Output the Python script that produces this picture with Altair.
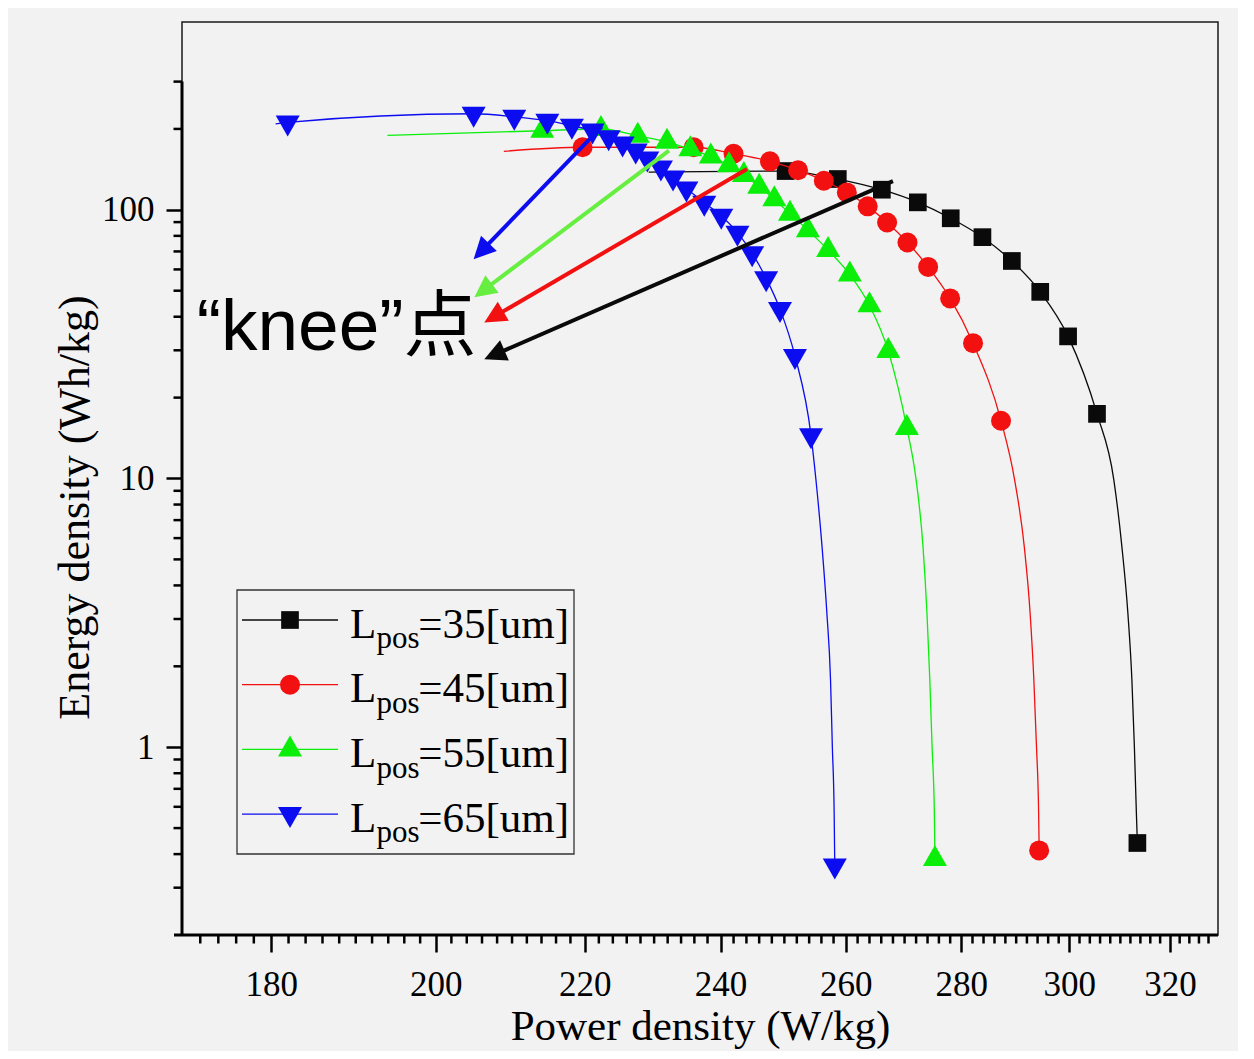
import math
import pandas as pd
import altair as alt

# ---------------- data ----------------
LEGEND_VALUES = ["35", "45", "55", "65"]
COLORS = ["#0a0a0a", "#f21010", "#0aee0a", "#0c0cf0"]

# L_pos = 35 um (squares)
BLACK_X = [250.2, 258.7, 266.1, 272.3, 278.1, 283.8, 289.2, 294.5, 299.8, 305.4, 313.4]
BLACK_Y = [139.4, 130.2, 118.8, 106.6, 93.0, 79.1, 64.5, 49.5, 33.8, 17.4, 0.44]
BLACK_LINE_X = [229.2, 308.7, 310.3, 311.5, 312.3, 312.8, 313.2]
BLACK_LINE_Y = [138.2, 9.91, 5.59, 3.15, 1.78, 1.00, 0.567]

# L_pos = 45 um (circles)
RED_X = [219.7, 235.9, 242.0, 247.7, 252.2, 256.4, 260.2, 263.7, 267.0, 270.5, 274.1, 278.0, 282.1, 287.2, 294.3]
RED_Y = [170.9, 170.9, 161.6, 151.5, 140.4, 128.3, 116.1, 103.0, 89.7, 75.6, 61.3, 46.8, 31.9, 16.4, 0.413]
RED_LINE_X = [208.9, 289.7, 291.5, 292.6, 293.3, 293.8, 294.2]
RED_LINE_Y = [165.1, 9.91, 5.59, 3.15, 1.78, 1.00, 0.567]

# L_pos = 55 um (up triangles)
GREEN_X = [214.1, 222.3, 227.6, 231.9, 235.4, 238.5, 241.3, 243.6, 246.0, 248.4, 250.9, 253.8, 257.1, 260.7,
           264.0, 267.2, 270.4, 275.3]
GREEN_Y = [196.9, 199.9, 188.6, 179.1, 168.1, 157.9, 146.4, 134.7, 121.9, 109.5, 96.7, 84.0, 70.8, 57.4,
           44.1, 29.8, 15.4, 0.384]
GREEN_LINE_X = [193.9, 272.0, 273.2, 273.9, 274.4, 274.8, 275.2]
GREEN_LINE_Y = [189.4, 9.91, 5.59, 3.15, 1.78, 1.00, 0.567]

# L_pos = 65 um (down triangles)
BLUE_X = [181.9, 204.9, 210.3, 214.8, 218.2, 221.1, 223.4, 225.4, 227.3, 229.0, 231.0, 232.8, 234.8, 237.5,
          240.1, 242.6, 244.9, 247.1, 249.3, 251.7, 254.3, 258.2]
BLUE_Y = [211.5, 227.8, 222.0, 214.6, 205.5, 197.4, 186.3, 176.5, 166.2, 155.2, 143.7, 131.8, 120.0, 106.3,
          95.1, 82.2, 68.9, 55.6, 42.7, 28.6, 14.5, 0.363]
BLUE_LINE_X = [180.5, 255.1, 256.1, 256.9, 257.5, 257.8, 258.1]
BLUE_LINE_Y = [208.7, 9.91, 5.59, 3.15, 1.78, 1.00, 0.567]

# "knee" arrows: start (on curve) and tip (near the label), in data units
ARROW_START_X = [222.4, 232.2, 244.1, 268.0]
ARROW_START_Y = [203.9, 166.0, 141.8, 127.9]
ARROW_TIP_X = [204.9, 205.0, 206.3, 206.3]
ARROW_TIP_Y = [65.5, 47.3, 38.1, 27.8]
ARROW_COLORS = ["#0c0cf0", "#66ee40", "#f21010", "#0a0a0a"]

KNEE_TEXT = "\u201cknee\u201d\u70b9"
KNEE_X = 171.6
KNEE_Y = 30.1

X_DOMAIN = [170, 330]
Y_DOMAIN = [0.2, 500]
X_MAJOR = [180, 200, 220, 240, 260, 280, 300, 320]
X_MINOR = [v for v in range(172, 330, 2) if v % 20 != 0]
Y_MAJOR = [1, 10, 100]
Y_MINOR = [0.3, 0.4, 0.5, 0.6, 0.7, 0.8, 0.9, 2, 3, 4, 5, 6, 7, 8, 9,
           20, 30, 40, 50, 60, 70, 80, 90, 200, 300]

# ---------------- layout / style ----------------
W, H = 1036, 913
SERIF = "Liberation Serif"
TRI_UP = "M-1,0.583L1,0.583L0,-1.167Z"
TRI_DOWN = "M-1,-0.583L1,-0.583L0,1.167Z"
SHAPES = ["square", "circle", TRI_UP, TRI_DOWN]
SIZES = [313, 400, 576, 576]
HEAD = "M0,0L1,2L-1,2Z"


def to_px(x, y):
    lx0, lx1 = math.log10(X_DOMAIN[0]), math.log10(X_DOMAIN[1])
    ly0, ly1 = math.log10(Y_DOMAIN[0]), math.log10(Y_DOMAIN[1])
    return (W * (math.log10(x) - lx0) / (lx1 - lx0),
            H * (ly1 - math.log10(y)) / (ly1 - ly0))


def from_px(px, py):
    lx0, lx1 = math.log10(X_DOMAIN[0]), math.log10(X_DOMAIN[1])
    ly0, ly1 = math.log10(Y_DOMAIN[0]), math.log10(Y_DOMAIN[1])
    return (10 ** (lx0 + px / W * (lx1 - lx0)),
            10 ** (ly1 - py / H * (ly1 - ly0)))


xscale = alt.Scale(type="log", domain=X_DOMAIN, nice=False)
yscale = alt.Scale(type="log", domain=Y_DOMAIN, nice=False)
xaxis = alt.Axis(values=X_MAJOR, format="d", title="Power density (W/kg)", grid=False, domain=False,
                 tickSize=17, tickWidth=2.5, tickColor="black",
                 labelFont=SERIF, labelFontSize=35, labelColor="black", labelPadding=15,
                 titleFont=SERIF, titleFontSize=43, titleFontWeight="normal", titleColor="black",
                 titleY=104, titleBaseline="alphabetic")
yaxis = alt.Axis(values=Y_MAJOR, format="d", title="Energy density (Wh/kg)", grid=False, domain=False,
                 tickSize=16, tickWidth=2.5, tickColor="black",
                 labelFont=SERIF, labelFontSize=35, labelColor="black", labelPadding=12,
                 titleFont=SERIF, titleFontSize=44, titleFontWeight="normal", titleColor="black",
                 titleAngle=270, titleX=-94, titleY=485, titleAlign="center", titleBaseline="alphabetic")
xenc = alt.X("x:Q", scale=xscale, axis=xaxis)
yenc = alt.Y("y:Q", scale=yscale, axis=yaxis)

layers = []

# axis lines and minor ticks
layers.append(alt.Chart(pd.DataFrame({"x": [X_DOMAIN[0]], "y": [300], "y2": [Y_DOMAIN[0]]}))
              .mark_rule(color="black", strokeWidth=3).encode(x=xenc, y=yenc, y2="y2:Q"))
layers.append(alt.Chart(pd.DataFrame({"k": [0]})).mark_rule(color="black", strokeWidth=3)
              .encode(x=alt.value(-8), x2=alt.value(W), y=alt.value(H)))
layers.append(alt.Chart(pd.DataFrame({"x": X_MINOR})).mark_rule(color="black", strokeWidth=2.5)
              .encode(x=xenc, y=alt.value(H), y2=alt.value(H + 8.5)))
layers.append(alt.Chart(pd.DataFrame({"y": Y_MINOR})).mark_rule(color="black", strokeWidth=2.5)
              .encode(y=yenc, x=alt.value(-8.5), x2=alt.value(0)))

# series: line then markers, in plotting order
SERIES = [(BLACK_X, BLACK_Y, BLACK_LINE_X, BLACK_LINE_Y),
          (RED_X, RED_Y, RED_LINE_X, RED_LINE_Y),
          (GREEN_X, GREEN_Y, GREEN_LINE_X, GREEN_LINE_Y),
          (BLUE_X, BLUE_Y, BLUE_LINE_X, BLUE_LINE_Y)]
for i, (mx, my, lx, ly) in enumerate(SERIES):
    pts = pd.DataFrame({"x": mx, "y": my})
    ln = pd.concat([pts, pd.DataFrame({"x": lx, "y": ly})]).sort_values("x").reset_index(drop=True)
    ln["o"] = range(len(ln))
    layers.append(alt.Chart(ln).mark_line(color=COLORS[i], strokeWidth=1.3, interpolate="monotone")
                  .encode(x=xenc, y=yenc, order="o:Q"))
    layers.append(alt.Chart(pts).mark_point(shape=SHAPES[i], size=SIZES[i], filled=True, opacity=1,
                                            color=COLORS[i], strokeWidth=0)
                  .encode(x=xenc, y=yenc))

# arrows
rule_rows, head_rows = [], []
for sx, sy, tx, ty, c in zip(ARROW_START_X, ARROW_START_Y, ARROW_TIP_X, ARROW_TIP_Y, ARROW_COLORS):
    psx, psy = to_px(sx, sy)
    ptx, pty = to_px(tx, ty)
    dx, dy = ptx - psx, pty - psy
    L = math.hypot(dx, dy)
    ang = math.degrees(math.atan2(dx, -dy)) % 360
    bx, by = from_px(ptx - 14 * dx / L, pty - 14 * dy / L)
    rule_rows.append({"x": sx, "y": sy, "x2": bx, "y2": by, "c": c})
    head_rows.append({"x": tx, "y": ty, "ang": ang, "c": c})
layers.append(alt.Chart(pd.DataFrame(rule_rows)).mark_rule(strokeWidth=4, strokeCap="butt")
              .encode(x=xenc, y=yenc, x2="x2:Q", y2="y2:Q", color=alt.Color("c:N", scale=None)))
layers.append(alt.Chart(pd.DataFrame(head_rows)).mark_point(shape=HEAD, size=484, filled=True, opacity=1,
                                                            strokeWidth=0)
              .encode(x=xenc, y=yenc, angle=alt.Angle("ang:Q", scale=None),
                      color=alt.Color("c:N", scale=None)))

# "knee" label
layers.append(alt.Chart(pd.DataFrame({"x": [KNEE_X], "y": [KNEE_Y], "t": [KNEE_TEXT]}))
              .mark_text(font="Liberation Sans, Noto Sans CJK SC", fontSize=73, align="left",
                         baseline="alphabetic", color="black")
              .encode(x=xenc, y=yenc, text="t:N"))

# legend (manual, for the subscript)
one = pd.DataFrame({"k": [0]})
layers.append(alt.Chart(one).mark_rect(fill="#f2f2f2", stroke="#333333", strokeWidth=1.3)
              .encode(x=alt.value(55), x2=alt.value(392), y=alt.value(568), y2=alt.value(832)))
ROW0, ROWSTEP = 598, 64.7
for i, val in enumerate(LEGEND_VALUES):
    ry = ROW0 + i * ROWSTEP
    layers.append(alt.Chart(one).mark_rule(color=COLORS[i], strokeWidth=1.3)
                  .encode(x=alt.value(60), x2=alt.value(156), y=alt.value(ry)))
    layers.append(alt.Chart(one).mark_point(shape=SHAPES[i], size=SIZES[i], filled=True, opacity=1,
                                            color=COLORS[i], strokeWidth=0)
                  .encode(x=alt.value(108), y=alt.value(ry)))
    layers.append(alt.Chart(one).mark_text(text="L", font=SERIF, fontSize=43, align="left",
                                           baseline="alphabetic", color="black")
                  .encode(x=alt.value(168), y=alt.value(ry + 17.7)))
    layers.append(alt.Chart(one).mark_text(text="pos", font=SERIF, fontSize=31, align="left",
                                           baseline="alphabetic", color="black")
                  .encode(x=alt.value(194.5), y=alt.value(ry + 28.3)))
    layers.append(alt.Chart(one).mark_text(text="=" + val + "[um]", font=SERIF, fontSize=43, align="left",
                                           baseline="alphabetic", color="black")
                  .encode(x=alt.value(236.3), y=alt.value(ry + 17.7)))

chart = (alt.layer(*layers)
         .properties(width=W, height=H, autosize=alt.AutoSizeParams(type="none"),
                     padding={"left": 174, "top": 14, "right": 20, "bottom": 116},
                     background="#f2f2f2")
         .configure_view(stroke="#1a1a1a", strokeWidth=1.5))

chart.save("out.html", embed_options={"renderer": "svg", "actions": False})
